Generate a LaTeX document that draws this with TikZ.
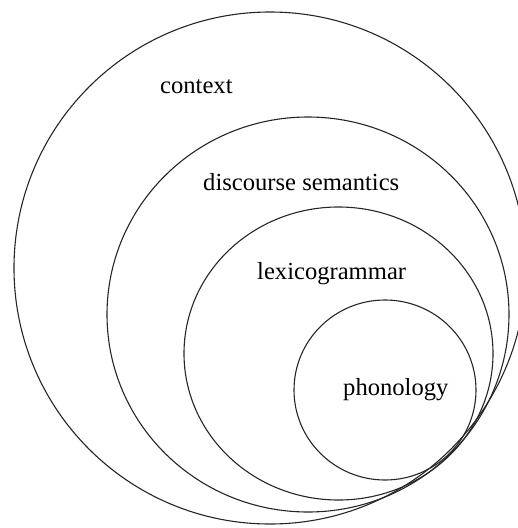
\documentclass[tikz,border=0pt]{standalone}
\usepackage{fontspec}
\setmainfont{Liberation Serif}
\begin{document}
\begin{tikzpicture}[x=1pt,y=-1pt,
  ring/.style={draw=black!85, line width=1.1pt},
  stratum/.style={anchor=base west, inner sep=0pt, font=\fontsize{24.6}{29}\selectfont}]
  \useasboundingbox (0,0) rectangle (518,528);
  \clip (0,0) rectangle (518,528);
  % nested strata, all meeting near the lower right
  \draw[ring] (270,268) circle[radius=256];
  \draw[ring] (308,314.5) ellipse[x radius=201, y radius=197.5];
  \draw[ring] (338.5,353.5) ellipse[x radius=154.5, y radius=146.5];
  \draw[ring] (385,390) ellipse[x radius=91, y radius=90];
  % labels
  \node[stratum] (context) at (160,93) {context};
  \node[stratum] (discsem) at (203,190) {discourse semantics};
  \node[stratum] (lexgram) at (257,279) {lexicogrammar};
  \node[stratum] (phon) at (343,395) {phonology};
\end{tikzpicture}
\end{document}
